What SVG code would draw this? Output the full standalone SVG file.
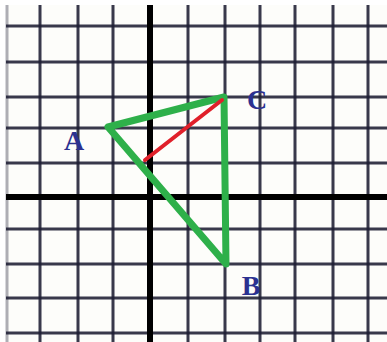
<svg xmlns="http://www.w3.org/2000/svg" width="387" height="342" viewBox="0 0 387 342">
<style>
.g{stroke:#1e1e34;stroke-width:3;opacity:0.88}
.ax{stroke:#000;stroke-width:6}
.tri{fill:none;stroke:#2eb04a;stroke-width:7;stroke-linejoin:round;stroke-linecap:round}
.lbl{font-family:"Liberation Serif",serif;font-weight:bold;font-size:28px;fill:#2b3190}
</style>
<rect width="387" height="342" fill="#ffffff"/>
<rect x="6" y="5" width="381" height="337" fill="#fdfdfa"/>
<g id="grid">
<line class="g" x1="7" y1="5" x2="7" y2="342" style="opacity:0.35"/>
<line class="g" x1="40" y1="5" x2="40" y2="342"/>
<line class="g" x1="78" y1="5" x2="78" y2="342"/>
<line class="g" x1="113" y1="5" x2="113" y2="342"/>
<line class="g" x1="188" y1="5" x2="188" y2="342"/>
<line class="g" x1="225" y1="5" x2="225" y2="342"/>
<line class="g" x1="260" y1="5" x2="260" y2="342"/>
<line class="g" x1="295" y1="5" x2="295" y2="342"/>
<line class="g" x1="333" y1="5" x2="333" y2="342"/>
<line class="g" x1="368" y1="5" x2="368" y2="342"/>
<line class="g" x1="6" y1="26" x2="387" y2="26"/>
<line class="g" x1="6" y1="62" x2="387" y2="62"/>
<line class="g" x1="6" y1="97" x2="387" y2="97"/>
<line class="g" x1="6" y1="128" x2="387" y2="128"/>
<line class="g" x1="6" y1="163" x2="387" y2="163"/>
<line class="g" x1="6" y1="229" x2="387" y2="229"/>
<line class="g" x1="6" y1="264" x2="387" y2="264"/>
<line class="g" x1="6" y1="298" x2="387" y2="298"/>
<line class="g" x1="6" y1="333" x2="387" y2="333"/>
</g>
<g id="axes">
<line class="ax" x1="150" y1="5" x2="150" y2="342"/>
<line class="ax" x1="6" y1="197" x2="387" y2="197"/>
</g>
<g id="connectors">
<polygon class="tri" points="108,127 224,97 226,264"/>
<line x1="145" y1="160" x2="222" y2="100" stroke="#e0202a" stroke-width="4" stroke-linecap="round"/>
</g>
<g id="A"><text class="lbl" x="74" y="150" text-anchor="middle">A</text></g>
<g id="C"><text class="lbl" x="257" y="109" text-anchor="middle">C</text></g>
<g id="B"><text class="lbl" x="251" y="295" text-anchor="middle">B</text></g>
</svg>
